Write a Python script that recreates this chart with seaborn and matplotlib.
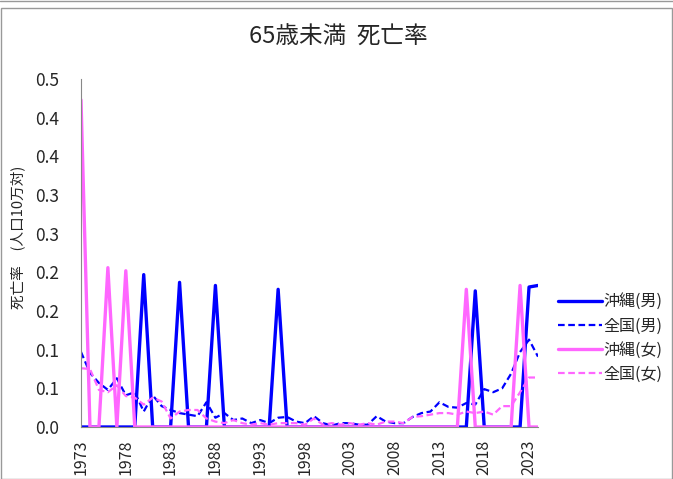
import numpy as np
import pandas as pd
import seaborn as sns
import matplotlib.pyplot as plt
from matplotlib.patches import Rectangle

years = list(range(1973, 2025))

okinawa_m = [0.0] * len(years)
for y, v in {1980: 0.197, 1984: 0.187, 1988: 0.183, 1995: 0.178,
             2017: 0.176, 2023: 0.181, 2024: 0.183}.items():
    okinawa_m[y - 1973] = v

okinawa_f = [0.0] * len(years)
for y, v in {1973: 0.423, 1976: 0.206, 1978: 0.202, 2016: 0.178, 2022: 0.183}.items():
    okinawa_f[y - 1973] = v

zenkoku_m = [0.097, 0.070, 0.057, 0.048, 0.063, 0.041, 0.045, 0.020, 0.041, 0.027,
             0.022, 0.018, 0.016, 0.014, 0.032, 0.012, 0.018, 0.009, 0.011, 0.005,
             0.009, 0.005, 0.012, 0.013, 0.007, 0.005, 0.014, 0.005, 0.002, 0.005,
             0.005, 0.003, 0.003, 0.014, 0.007, 0.005, 0.005, 0.013, 0.018, 0.020,
             0.032, 0.026, 0.025, 0.031, 0.029, 0.049, 0.045, 0.050, 0.069, 0.097,
             0.113, 0.091]

zenkoku_f = [0.076, 0.075, 0.048, 0.045, 0.054, 0.040, 0.038, 0.029, 0.038, 0.033,
             0.011, 0.020, 0.022, 0.022, 0.011, 0.007, 0.005, 0.009, 0.005, 0.003,
             0.005, 0.003, 0.005, 0.005, 0.005, 0.003, 0.011, 0.003, 0.005, 0.003,
             0.005, 0.003, 0.005, 0.003, 0.007, 0.007, 0.005, 0.013, 0.014, 0.016,
             0.018, 0.018, 0.016, 0.020, 0.018, 0.020, 0.016, 0.027, 0.027, 0.045,
             0.064, 0.064]

y_ticks = [0, 0.05, 0.10, 0.15, 0.20, 0.25, 0.30, 0.35, 0.40, 0.45]
y_labels = ['0.0', '0.1', '0.1', '0.2', '0.2', '0.3', '0.3', '0.4', '0.4', '0.5']

sns.set_style('white')
plt.rcParams['font.family'] = ['Noto Sans CJK JP', 'DejaVu Sans']

idx = np.arange(len(years))
df = pd.DataFrame({'i': idx, 'om': okinawa_m, 'zm': zenkoku_m,
                   'of': okinawa_f, 'zf': zenkoku_f})

fig = plt.figure(figsize=(6.73, 4.79), dpi=100)
ax = fig.add_axes([81 / 673, 1 - 427 / 479, (538 - 81) / 673, (427 - 79) / 479])

blue = '#0000FF'
pink = '#FF66FF'
sns.lineplot(data=df, x='i', y='om', ax=ax, color=blue, lw=2.4, label='沖縄(男)')
sns.lineplot(data=df, x='i', y='zm', ax=ax, color=blue, lw=1.6, label='全国(男)',
             dashes=False).lines[-1].set_dashes((3, 1.6))
sns.lineplot(data=df, x='i', y='of', ax=ax, color=pink, lw=2.4, label='沖縄(女)')
sns.lineplot(data=df, x='i', y='zf', ax=ax, color=pink, lw=1.6, label='全国(女)',
             dashes=False).lines[-1].set_dashes((3, 1.6))

ax.set_xlim(0, len(years) - 1)
ax.set_ylim(0, 0.45)
ax.set_yticks(y_ticks)
ax.set_yticklabels(y_labels, fontsize=12.5)
ax.set_xticks(idx)
ax.set_xticklabels([str(y) if (y - 1973) % 5 == 0 else '' for y in years],
                   rotation=90, fontsize=11.5)
ax.tick_params(axis='both', direction='in', length=4, color='#888888', width=1)
ax.tick_params(axis='x', pad=9)
ax.tick_params(axis='y', pad=16)
for s in ['top', 'right']:
    ax.spines[s].set_visible(False)
for s in ['left', 'bottom']:
    ax.spines[s].set_color('#888888')
ax.set_xlabel('')
ax.set_ylabel('死亡率　(人口10万対)', fontsize=10.5)
ax.yaxis.set_label_coords(-0.122, 0.546)

ax.get_legend().remove()
handles, labels = ax.get_legend_handles_labels()
fig.legend(handles, labels, loc='center left', bbox_to_anchor=(544 / 673, 1 - 338 / 479),
           frameon=False, fontsize=11.5, handlelength=2.7, handletextpad=0.1,
           labelspacing=0.45)

fig.text(338 / 673, 1 - 37 / 479, '65歳未満  死亡率', ha='center', va='center', fontsize=17)

fig.patches.append(Rectangle((1 / 673, 0), 671 / 673, 1 - 8 / 479, transform=fig.transFigure,
                             fill=False, edgecolor='#999999', lw=1))
fig.lines.append(plt.Line2D([0, 1], [1 - 1 / 479, 1 - 1 / 479], transform=fig.transFigure,
                            color='#999999', lw=1))

fig.savefig('out.png', dpi=100)
